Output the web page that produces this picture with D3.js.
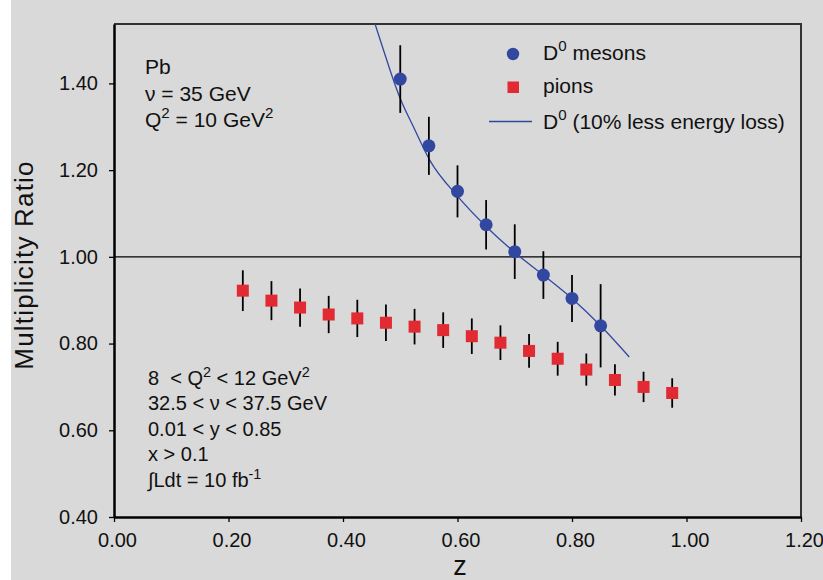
<!DOCTYPE html>
<html>
<head>
<meta charset="utf-8">
<script src="https://cdn.jsdelivr.net/npm/d3@7"></script>
<style>
  body { margin: 0; background: #fff; }
  svg { display: block; font-family: "Liberation Sans", Arial, Helvetica, sans-serif; }
</style>
</head>
<body>
<div id="chart"></div>
<script>
// D0 mesons (circles with error bars)
const d0Z = [0.50, 0.55, 0.60, 0.65, 0.70, 0.75, 0.80, 0.85];
const d0Ratio = [1.410, 1.256, 1.151, 1.074, 1.012, 0.958, 0.904, 0.841];
const d0Err = [0.078, 0.067, 0.060, 0.057, 0.063, 0.055, 0.054, 0.096];

// pions (squares with error bars)
const pionZ = [0.225, 0.275, 0.325, 0.375, 0.425, 0.475, 0.525, 0.575,
  0.625, 0.675, 0.725, 0.775, 0.825, 0.875, 0.925, 0.975];
const pionRatio = [0.922, 0.899, 0.883, 0.867, 0.858, 0.848, 0.839, 0.831,
  0.817, 0.802, 0.783, 0.765, 0.740, 0.716, 0.700, 0.686];
const pionErr = [0.047, 0.045, 0.044, 0.043, 0.043, 0.042, 0.041, 0.041,
  0.041, 0.040, 0.039, 0.039, 0.037, 0.036, 0.035, 0.034];

// D0 with 10% less energy loss (line)
const curveZ = [0.456, 0.470, 0.488, 0.500, 0.523, 0.552, 0.600, 0.650, 0.700, 0.750, 0.800, 0.850, 0.900];
const curveRatio = [1.537, 1.480, 1.408, 1.365, 1.300, 1.222, 1.140, 1.070, 1.010, 0.958, 0.904, 0.841, 0.769];

const xTicks = [0, 0.2, 0.4, 0.6, 0.8, 1.0, 1.2];
const yTicks = [0.4, 0.6, 0.8, 1.0, 1.2, 1.4];

const legendLabels = ["D^{0} mesons", "pions", "D^{0} (10% less energy loss)"];
const infoTop = ["Pb", "ν = 35 GeV", "Q^{2} = 10 GeV^{2}"];
const infoBottom = ["8  < Q^{2} < 12 GeV^{2}", "32.5 < ν < 37.5 GeV", "0.01 < y < 0.85", "x > 0.1", "∫Ldt = 10 fb^{-1}"];

class RatioChart {

  constructor(width, height) {
    this.width = width
    this.height = height
    this.margin = { top: 24, right: 22, bottom: 63, left: 114 }
    this.blue = "#3147a0"
    this.red = "#e12a31"
    this.svg = d3.select("#chart")
      .append("svg")
      .attr("width", width)
      .attr("height", height)
  }

  init() {
    this.setScales()
    this.drawFrame()
    this.drawAxes()
    this.drawSeries()
    this.drawLegend()
    this.drawInfo()
  }

  setScales() {
    const m = this.margin
    this.x = d3.scaleLinear().domain([0, 1.2]).range([m.left, this.width - m.right])
    this.y = d3.scaleLinear().domain([0.4, 1.537]).range([this.height - m.bottom, m.top])
  }

  // writes "a^{b}" strings as text with superscript tspans
  richText(sel, str, size) {
    const parts = str.split(/(\^\{[^}]*\})/).filter(s => s.length)
    const shift = Math.round(size * 0.42)
    let raised = false
    parts.forEach(p => {
      if (p.startsWith("^{")) {
        sel.append("tspan").attr("dy", -shift).attr("font-size", size * 0.72).text(p.slice(2, -1))
        raised = true
      } else {
        sel.append("tspan").attr("dy", raised ? shift : 0).text(p)
        raised = false
      }
    })
  }

  drawFrame() {
    this.svg.append("rect")
      .attr("x", 11).attr("y", 0)
      .attr("width", this.width - 11).attr("height", this.height)
      .attr("fill", "#d9d9d9")

    const [x0, x1] = this.x.range()
    const [y0, y1] = this.y.range()
    this.svg.append("path")
      .attr("d", `M${x0},${y1}H${x1}V${y0}`)
      .attr("fill", "none")
      .attr("stroke", "#333")
      .attr("stroke-width", 2)

    this.svg.append("defs").append("clipPath").attr("id", "plot-clip")
      .append("rect")
      .attr("x", x0).attr("y", y1)
      .attr("width", x1 - x0).attr("height", y0 - y1)

    this.svg.append("line")
      .attr("x1", x0).attr("x2", x1)
      .attr("y1", this.y(1)).attr("y2", this.y(1))
      .attr("stroke", "#000")
      .attr("stroke-width", 1.2)
  }

  drawAxes() {
    const xAxis = this.svg.append("g")
      .attr("transform", `translate(0,${this.y.range()[0]})`)
      .call(d3.axisBottom(this.x).tickValues(xTicks).tickFormat(d3.format(".2f"))
        .tickSize(5).tickSizeOuter(0).tickPadding(11))
    xAxis.selectAll("text").attr("font-size", 20).attr("fill", "#111").attr("dx", 3)

    const yAxis = this.svg.append("g")
      .attr("transform", `translate(${this.x.range()[0]},0)`)
      .call(d3.axisLeft(this.y).tickValues(yTicks).tickFormat(d3.format(".2f"))
        .tickSize(5).tickSizeOuter(0).tickPadding(11))
    yAxis.selectAll("text").attr("font-size", 20).attr("fill", "#111")

    this.svg.selectAll(".domain").attr("stroke", "#000").attr("stroke-width", 2.5)
    this.svg.selectAll(".tick line").attr("stroke", "#000").attr("stroke-width", 1.3)

    this.svg.append("text")
      .attr("transform", "translate(33,265) rotate(-90)")
      .attr("text-anchor", "middle")
      .attr("font-size", 26)
      .attr("letter-spacing", 1.2)
      .attr("fill", "#111")
      .text("Multiplicity Ratio")

    this.svg.append("text")
      .attr("x", 460).attr("y", 575)
      .attr("text-anchor", "middle")
      .attr("font-size", 27)
      .attr("fill", "#111")
      .text("z")
  }

  drawSeries() {
    const plot = this.svg.append("g").attr("clip-path", "url(#plot-clip)")

    const line = d3.line()
      .x(d => this.x(d[0]))
      .y(d => this.y(d[1]))
      .curve(d3.curveMonotoneX)
    plot.append("path")
      .datum(d3.zip(curveZ, curveRatio))
      .attr("d", line)
      .attr("fill", "none")
      .attr("stroke", this.blue)
      .attr("stroke-width", 1.3)

    const pions = d3.zip(pionZ, pionRatio, pionErr)
    const d0 = d3.zip(d0Z, d0Ratio, d0Err)

    plot.selectAll(".err").data(pions.concat(d0))
      .join("line")
      .attr("x1", d => this.x(d[0])).attr("x2", d => this.x(d[0]))
      .attr("y1", d => this.y(d[1] - d[2])).attr("y2", d => this.y(d[1] + d[2]))
      .attr("stroke", "#000")
      .attr("stroke-width", 1.8)

    const s = 12
    plot.selectAll(".pion").data(pions)
      .join("rect")
      .attr("x", d => this.x(d[0]) - s / 2)
      .attr("y", d => this.y(d[1]) - s / 2)
      .attr("width", s).attr("height", s)
      .attr("fill", this.red)

    plot.selectAll(".d0").data(d0)
      .join("circle")
      .attr("cx", d => this.x(d[0]))
      .attr("cy", d => this.y(d[1]))
      .attr("r", 6.5)
      .attr("fill", this.blue)
  }

  drawLegend() {
    const g = this.svg.append("g")
    g.append("circle").attr("cx", 513).attr("cy", 54).attr("r", 6.2).attr("fill", this.blue)
    g.append("rect").attr("x", 507.5).attr("y", 81.5).attr("width", 11.5).attr("height", 11.5).attr("fill", this.red)
    g.append("line").attr("x1", 489).attr("x2", 532).attr("y1", 121.5).attr("y2", 121.5)
      .attr("stroke", this.blue).attr("stroke-width", 1.3)

    const baselines = [60, 93, 129]
    legendLabels.forEach((lab, i) => {
      const t = g.append("text")
        .attr("x", 543).attr("y", baselines[i])
        .attr("font-size", 21)
        .attr("fill", "#111")
      this.richText(t, lab, 21)
    })
  }

  drawInfo() {
    infoTop.forEach((lab, i) => {
      const t = this.svg.append("text")
        .attr("x", 145).attr("y", 74 + i * 26.5)
        .attr("font-size", 21)
        .attr("fill", "#111")
        .style("white-space", "pre")
      this.richText(t, lab, 21)
    })
    infoBottom.forEach((lab, i) => {
      const t = this.svg.append("text")
        .attr("x", 148).attr("y", 385 + i * 25.4)
        .attr("font-size", 20)
        .attr("fill", "#111")
        .style("white-space", "pre")
      this.richText(t, lab, 20)
    })
  }
}

const chart = new RatioChart(823, 580)
chart.init()
</script>
</body>
</html>
